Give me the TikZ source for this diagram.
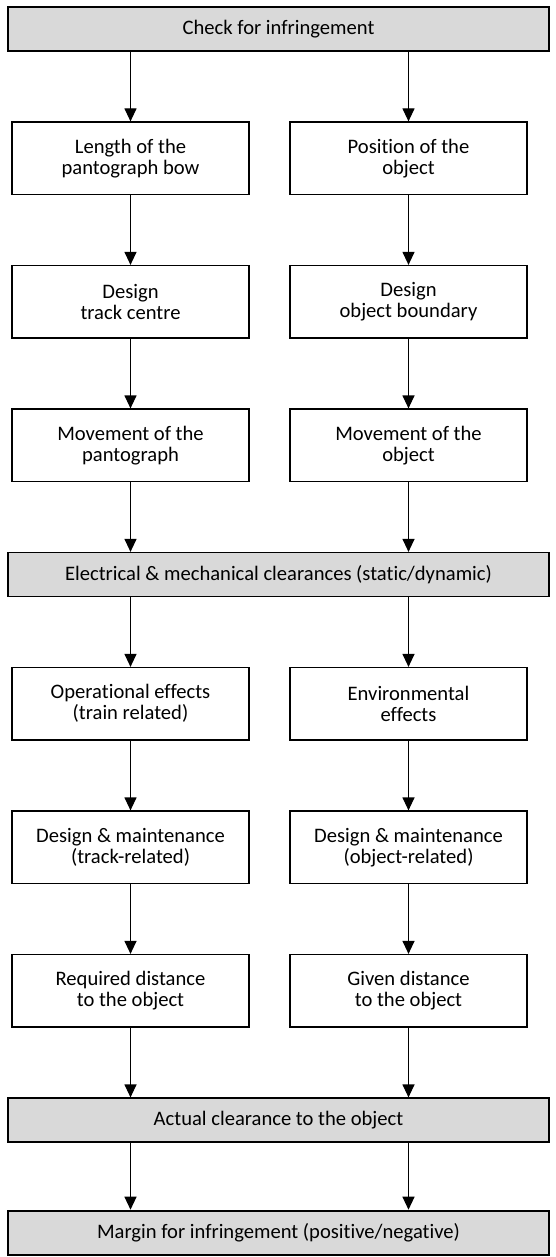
\documentclass[tikz,border=0pt]{standalone}
\usepackage{fontspec}
\setmainfont{Carlito}[Ligatures=CommonOff]
\usetikzlibrary{arrows.meta}
\definecolor{barfill}{HTML}{D9D9D9}
\begin{document}
\begin{tikzpicture}[x=1pt,y=1pt,
  every node/.style={font=\fontsize{20.6}{21}\selectfont, align=center, inner sep=0pt},
  stepbox/.style={draw, line width=1.2pt, minimum width=237pt, minimum height=72.5pt},
  bar/.style={draw, line width=1.2pt, fill=barfill, minimum width=541pt, minimum height=44pt},
  endbar/.style={bar, line width=2.6pt},
  arr/.style={-{Triangle[width=12pt,length=13pt]}, line width=1.2pt}]
\useasboundingbox (0,0) rectangle (556,-1257);
\node[endbar] (top) at (278.5,-29) {Check for infringement};
\node[stepbox] (l1) at (130.5,-158.25) {Length of the\\pantograph bow};
\node[stepbox] (r1) at (408.5,-158.25) {Position of the\\object};
\node[stepbox] (l2) at (130.5,-301.75) {Design\\track centre};
\node[stepbox] (r2) at (408.5,-301.75) {Design\\object boundary};
\node[stepbox] (l3) at (130.5,-445.25) {Movement of the\\pantograph};
\node[stepbox] (r3) at (408.5,-445.25) {Movement of the\\object};
\node[bar] (elec) at (278.5,-574.5) {Electrical \& mechanical clearances (static/dynamic)};
\node[stepbox] (l4) at (130.5,-703.75) {Operational effects\\(train related)};
\node[stepbox] (r4) at (408.5,-703.75) {Environmental\\effects};
\node[stepbox] (l5) at (130.5,-847.25) {Design \& maintenance\\(track-related)};
\node[stepbox] (r5) at (408.5,-847.25) {Design \& maintenance\\(object-related)};
\node[stepbox] (l6) at (130.5,-990.75) {Required distance\\to the object};
\node[stepbox] (r6) at (408.5,-990.75) {Given distance\\to the object};
\node[bar] (act) at (278.5,-1120) {Actual clearance to the object};
\node[endbar] (bot) at (278.5,-1233) {Margin for infringement (positive/negative)};
\foreach \c in {l,r}{
  \draw[arr] (top.south -| \c1.north) -- (\c1.north);
  \draw[arr] (\c1) -- (\c2);
  \draw[arr] (\c2) -- (\c3);
  \draw[arr] (\c3.south) -- (\c3.south |- elec.north);
  \draw[arr] (elec.south -| \c4.north) -- (\c4.north);
  \draw[arr] (\c4) -- (\c5);
  \draw[arr] (\c5) -- (\c6);
  \draw[arr] (\c6.south) -- (\c6.south |- act.north);
  \draw[arr] (act.south -| \c6.south) -- (bot.north -| \c6.south);
}
\end{tikzpicture}
\end{document}
